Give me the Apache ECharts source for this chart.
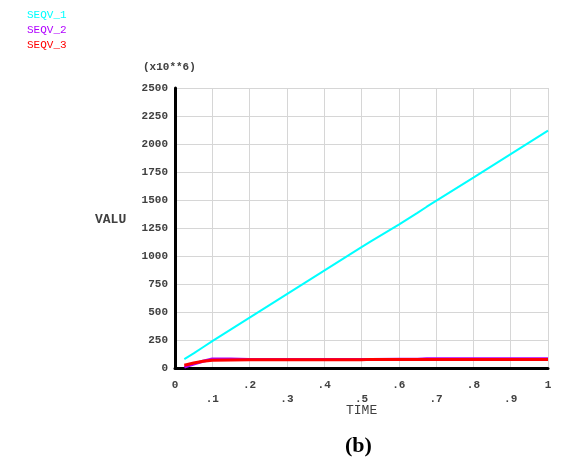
<!DOCTYPE html>
<html>
<head>
<meta charset="utf-8">
<script src="https://cdn.jsdelivr.net/npm/echarts@6/dist/echarts.min.js"></script>
<style>
  html, body { margin: 0; padding: 0; background: #fff; }
  #chart { width: 572px; height: 461px; }
</style>
</head>
<body>
<div id="chart"></div>
<script>
// time steps (x) shared by all three curves
const timeSteps = [0.025, 0.05, 0.075, 0.1, 0.15, 0.2, 0.3, 0.4, 0.5, 0.525, 0.6, 0.65, 0.675, 0.8, 0.9, 1.0]
// values in units of 10**6
const seqv1 = [80, 130, 185, 240, 345, 450, 660, 870, 1080, 1130, 1280, 1385, 1440, 1700, 1910, 2120]
const seqv2 = [8, 35, 60, 80, 80, 77, 77, 77, 77, 77, 78, 78, 83, 83, 83, 83]
const seqv3 = [25, 45, 60, 70, 72, 73, 73, 73, 73, 77, 77, 77, 77, 77, 77, 77]
const seriesNames = ['SEQV_1', 'SEQV_2', 'SEQV_3']
const seriesColors = ['#00ffff', '#b000ff', '#ff0000']
const xTickLabels = ['0', '.1', '.2', '.3', '.4', '.5', '.6', '.7', '.8', '.9', '1']

const mono = '"Liberation Mono", "DejaVu Sans Mono", monospace'
const chart = echarts.init(document.getElementById('chart'))

const pairs = (vals) => timeSteps.map((t, i) => [t, vals[i]])
const allValues = [seqv1, seqv2, seqv3]

const option = {
  animation: false,
  grid: { left: 175, right: 24, top: 88, bottom: 93 },
  legend: {
    orient: 'vertical',
    left: 17,
    top: 5,
    itemWidth: 0,
    itemHeight: 0,
    itemGap: 4,
    icon: 'rect',
    selectedMode: false,
    data: seriesNames.map((n, i) => ({ name: n, textStyle: { color: seriesColors[i] } })),
    textStyle: { fontFamily: mono, fontSize: 11 }
  },
  xAxis: {
    type: 'value',
    min: 0,
    max: 1,
    interval: 0.1,
    axisLine: { show: true, onZero: false, lineStyle: { color: '#000', width: 3 } },
    axisTick: { show: false },
    splitLine: { show: true, lineStyle: { color: '#d6d6d6', width: 1 } },
    axisLabel: {
      margin: 10,
      fontFamily: mono,
      fontSize: 11,
      fontWeight: 'bold',
      color: '#404040',
      lineHeight: 14,
      showMinLabel: true,
      showMaxLabel: true,
      formatter: (v) => {
        const i = Math.round(v * 10)
        return i % 2 === 1 ? '\n' + xTickLabels[i] : xTickLabels[i]
      }
    }
  },
  yAxis: {
    type: 'value',
    min: 0,
    max: 2500,
    interval: 250,
    axisLine: { show: true, lineStyle: { color: '#000', width: 3 } },
    axisTick: { show: false },
    splitLine: { show: true, lineStyle: { color: '#d6d6d6', width: 1 } },
    axisLabel: {
      margin: 7,
      fontFamily: mono,
      fontSize: 11,
      fontWeight: 'bold',
      color: '#404040',
      formatter: (v) => String(v)
    }
  },
  graphic: [
    { type: 'text', left: 143, top: 62, style: { text: '(x10**6)', font: 'bold 11px ' + mono, fill: '#404040' } },
    { type: 'text', left: 95, top: 213, style: { text: 'VALU', font: 'bold 13px ' + mono, fill: '#404040' } },
    { type: 'text', left: 346, top: 404, style: { text: 'TIME', font: '13px ' + mono, fill: '#404040' } },
    { type: 'text', left: 345, top: 435, style: { text: '(b)', font: 'bold 22px "Liberation Serif", serif', fill: '#000' } }
  ],
  series: seriesNames.map((n, i) => ({
    name: n,
    type: 'line',
    data: pairs(allValues[i]),
    showSymbol: false,
    lineStyle: { color: seriesColors[i], width: i === 0 ? 2 : 3 },
    itemStyle: { color: seriesColors[i] }
  }))
}

chart.setOption(option)
</script>
</body>
</html>
